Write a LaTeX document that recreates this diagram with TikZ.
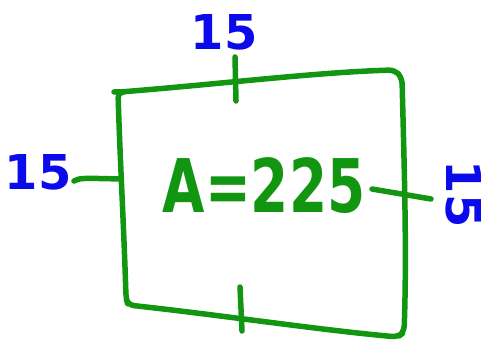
\documentclass[tikz,border=0pt]{standalone}
\usepackage{fontspec}
\setmainfont{DejaVu Sans}
\definecolor{pen}{RGB}{18,150,18}
\definecolor{ink}{RGB}{10,10,235}
\begin{document}
\begin{tikzpicture}[x=1pt,y=-1pt,
  greenline/.style={pen,line width=5.5pt,line cap=round,line join=round},
  bluelabel/.style={ink,inner sep=0pt,font=\bfseries\fontsize{48}{48}\selectfont},
  arealabel/.style={pen,inner sep=0pt,font=\bfseries\fontsize{74}{74}\selectfont,xscale=0.74}]
\useasboundingbox (0,0) rectangle (494,344);
% square
\draw[greenline,rounded corners=6pt] (120,92) .. controls (220,84) and (320,72) .. (395,70)
  -- (402,78) .. controls (404,160) and (407,250) .. (404,332) -- (398,337)
  .. controls (320,330) and (220,315) .. (128,305) -- (126,298)
  .. controls (124,230) and (120,160) .. (118,92) -- cycle;
% ticks
\coordinate (t1) at (235,57); \coordinate (t2) at (236,101);
\coordinate (b1) at (240,287); \coordinate (b2) at (242,331);
\coordinate (l1) at (74,181); \coordinate (l2) at (121,179);
\coordinate (r1) at (372,189); \coordinate (r2) at (431,199);
\draw[greenline] (t1) -- (t2);
\draw[greenline] (b1) -- (b2);
\draw[greenline] (l1) .. controls (80,178) .. (l2);
\draw[greenline] (r1) -- (r2);
% labels
\node[bluelabel] (top) at (224,32) {15};
\node[bluelabel] (left) at (38,172) {15};
\node[bluelabel,rotate=-90] (right) at (464,194) {15};
\node[arealabel] (area) at (264,186) {A=225};
\end{tikzpicture}
\end{document}
